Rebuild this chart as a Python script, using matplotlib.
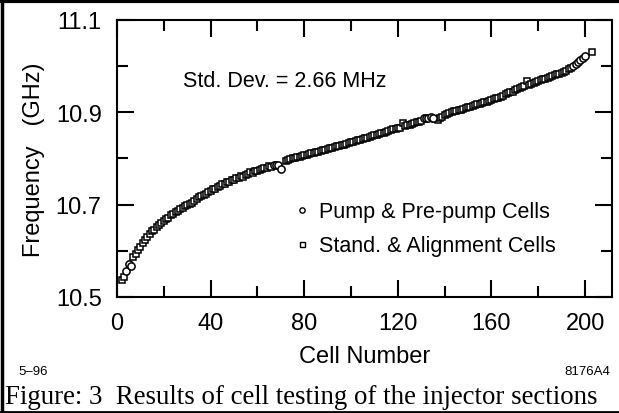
import numpy as np
import matplotlib
matplotlib.use('Agg')
import matplotlib.pyplot as plt
from matplotlib.lines import Line2D

plt.rcParams['font.family'] = ['Liberation Sans', 'DejaVu Sans']

# cell numbers 2..203 and measured frequency (GHz), nan = cell not shown
cells = list(range(2, 204))
freq = [
    10.536, 10.543, 10.556, 10.571, 10.567, 10.586, 10.593, 10.601, 10.608,  # 2-10
    10.617, 10.624, 10.631, 10.636, 10.643, 10.646, 10.652, 10.657, 10.660, 10.665,  # 11-20
    10.670, 10.672, 10.677, 10.679, 10.684, 10.686, 10.691, 10.692, 10.697, 10.699,  # 21-30
    10.702, 10.704, 10.708, 10.712, 10.716, 10.719, 10.720, 10.724, 10.728, 10.729,  # 31-40
    10.733, 10.734, 10.738, 10.740, 10.744, 10.745, 10.750, 10.749, 10.753, 10.754,  # 41-50
    10.757, 10.758, 10.762, 10.761, 10.765, 10.767, 10.770, 10.769, 10.773, 10.772,  # 51-60
    10.776, 10.777, 10.779, 10.780, 10.783, 10.782, 10.785, 10.786, 10.787, 10.778,  # 61-70
    np.nan, 10.794, 10.797, 10.799, 10.800, 10.802, 10.803, 10.804, 10.806, 10.807,  # 71-80
    10.808, 10.810, 10.811, 10.812, 10.814, 10.815, 10.816, 10.818, 10.819, 10.820,  # 81-90
    10.822, 10.823, 10.825, 10.826, 10.827, 10.829, 10.830, 10.832, 10.833, 10.835,  # 91-100
    10.836, 10.838, 10.839, 10.841, 10.842, 10.844, 10.845, 10.847, 10.848, 10.850,  # 101-110
    10.851, 10.853, 10.855, 10.856, 10.858, 10.859, 10.861, 10.863, 10.864, 10.866,  # 111-120
    10.867, 10.877, 10.870, 10.872, 10.873, 10.875, 10.877, 10.878, 10.880, 10.882,  # 121-130
    10.887, 10.888, 10.888, 10.889, 10.888, 10.886, 10.883, 10.888, 10.890, 10.895,  # 131-140
    10.897, 10.899, 10.900, 10.902, 10.903, 10.905, 10.906, 10.908, 10.909, 10.911,  # 141-150
    10.912, 10.914, 10.915, 10.917, 10.919, 10.920, 10.922, 10.923, 10.925, 10.927,  # 151-160
    10.928, 10.930, 10.932, 10.934, 10.936, 10.939, 10.941, 10.943, 10.945, 10.948,  # 161-170
    10.950, 10.953, 10.955, 10.957, 10.968, 10.960, 10.961, 10.963, 10.965, 10.967,  # 171-180
    10.969, 10.972, 10.973, 10.975, 10.977, 10.978, 10.980, 10.984, 10.983, 10.986,  # 181-190
    10.988, 10.990, 10.993, 10.996, 11.000, 11.004, 11.008, 11.013, 11.017, 11.022,  # 191-200
    np.nan, np.nan, 11.031,  # 201-203
]
pump_cells = [4, 5, 6, 67, 68, 69, 70, 131, 132, 133, 134, 135,
              195, 196, 197, 198, 199, 200]

labels = ['Pump & Pre-pump Cells', 'Stand. & Alignment Cells']
std_text = 'Std. Dev. = 2.66 MHz'
caption = 'Figure: 3  Results of cell testing of the injector sections'

cells = np.array(cells)
freq = np.array(freq)
is_pump = np.isin(cells, pump_cells)

fig = plt.figure(figsize=(6.19, 4.14), dpi=100)
ax = fig.add_axes([117 / 619, 1 - 298 / 414, 495 / 619, 277 / 414])

ax.plot(cells[~is_pump], freq[~is_pump], ls='none', marker='s', ms=3.8,
        mfc='white', mec='black', mew=1.1)
ax.plot(cells[is_pump], freq[is_pump], ls='none', marker='o', ms=5.2,
        mfc='white', mec='black', mew=1.1)

ax.set_xlim(0.8, 211.5)
ax.set_ylim(10.5, 11.1)
ax.set_xticks([0, 40, 80, 120, 160, 200])
ax.set_xticks([20, 60, 100, 140, 180], minor=True)
ax.set_yticks([10.5, 10.7, 10.9, 11.1])
ax.set_yticks([10.6, 10.8, 11.0], minor=True)
ax.set_xticklabels(['0', '40', '80', '120', '160', '200'])
ax.set_yticklabels(['10.5', '10.7', '10.9', '11.1'])
ax.tick_params(which='both', direction='in', top=True, right=True, width=1.5,
               labelsize=17, pad=11)
ax.tick_params(which='major', length=12)
ax.tick_params(which='minor', length=8)
for sp in ax.spines.values():
    sp.set_linewidth(1.5)

ax.set_xlabel('Cell Number', fontsize=17, labelpad=8)
ax.set_ylabel('Frequency   (GHz)', fontsize=17, labelpad=8)

ax.text(0.133, 0.78, std_text, transform=ax.transAxes, fontsize=15.5,
        ha='left', va='center')

handles = [
    Line2D([], [], ls='none', marker='o', ms=3.8, mfc='white', mec='black', mew=1.0),
    Line2D([], [], ls='none', marker='s', ms=3.6, mfc='white', mec='black', mew=1.0),
]
ax.legend(handles, labels, loc='upper left', bbox_to_anchor=(0.356, 0.345),
          frameon=False, fontsize=15.5, handlelength=0.8, handletextpad=0.4,
          borderaxespad=0, borderpad=0, labelspacing=0.6)

fig.text(18 / 619, 1 - 372 / 414, '5–96', fontsize=9.5, ha='left', va='center')
fig.text(610 / 619, 1 - 372 / 414, '8176A4', fontsize=9.5, ha='right', va='center')
fig.text(5 / 619, 1 - 398 / 414, caption, fontsize=19.4,
         family=['Liberation Serif', 'DejaVu Serif'], ha='left', va='center')

# outer frame (top, left, bottom)
fig.add_artist(Line2D([0, 1], [1 - 2 / 414, 1 - 2 / 414], transform=fig.transFigure,
                      color='black', lw=3))
fig.add_artist(Line2D([1.5 / 619, 1.5 / 619], [0, 1], transform=fig.transFigure,
                      color='black', lw=2.5))
fig.add_artist(Line2D([0, 1], [1 / 414, 1 / 414], transform=fig.transFigure,
                      color='black', lw=2))

fig.savefig('out.png', dpi=100)
